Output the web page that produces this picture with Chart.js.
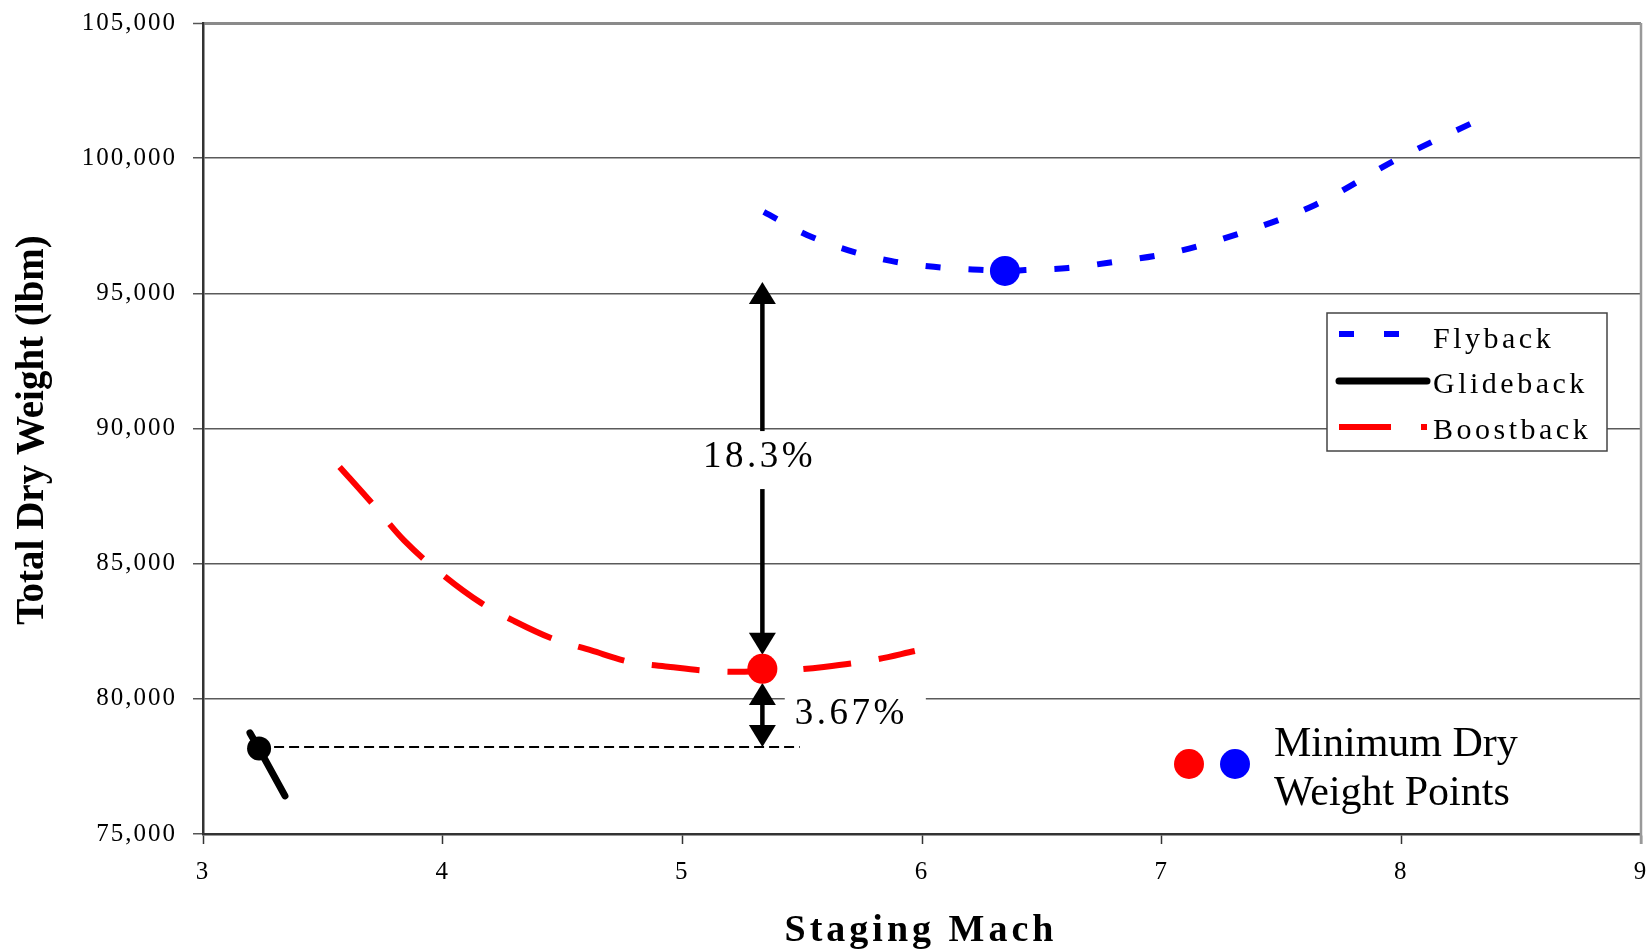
<!DOCTYPE html>
<html>
<head>
<meta charset="utf-8">
<script src="https://cdn.jsdelivr.net/npm/chart.js@4.4.1/dist/chart.umd.min.js"></script>
<style>
html, body { margin: 0; padding: 0; background: #fff; }
</style>
</head>
<body>
<canvas id="chart" width="1648" height="949"></canvas>
<script>
// staging Mach vs total dry weight
const flybackX = [5.34, 5.52, 5.69, 5.87, 6.05, 6.24, 6.35, 6.43, 6.61, 6.80, 7.05, 7.33, 7.64, 7.99, 8.34];
const flybackY = [98010, 97160, 96600, 96200, 95980, 95870, 95830, 95860, 95940, 96160, 96520, 97230, 98270, 100000, 101490];

const boostbackX = [3.57, 3.70, 3.84, 4.00, 4.16, 4.30, 4.46, 4.62, 4.78, 4.95, 5.10, 5.25, 5.33, 5.46, 5.59, 5.80, 5.97];
const boostbackY = [88580, 87290, 85850, 84590, 83550, 82870, 82220, 81790, 81370, 81180, 81040, 81000, 81030, 81070, 81180, 81440, 81770];

const glidebackX = [3.196, 3.234, 3.342];
const glidebackY = [78740, 78150, 76410];

// minimum dry weight points: glideback, boostback, flyback
const minX = [3.234, 5.334, 6.346];
const minY = [78160, 81110, 95830];

// dashed reference line at the glideback minimum
const refX = [3.234, 5.49];
const refY = [78220, 78220];

// difference arrows and their labels
const arrowX = [5.334, 5.334];
const arrowTop = [95420, 80590];
const arrowBottom = [81630, 78220];
const pctLabels = ['18.3%', '3.67%'];
const pctX = [5.322, 5.705];
const pctY = [88980, 79450];

const xMin = 3, xMax = 9, xStep = 1;
const yMin = 75000, yMax = 105000, yStep = 5000;

const seriesNames = ['Flyback', 'Glideback', 'Boostback'];

const pts = (xs, ys) => xs.map((x, i) => ({ x: x, y: ys[i] }));

const SERIF = "'Liberation Serif', 'Times New Roman', serif";

function drawArrows(chart) {
    const ctx = chart.ctx;
    const xs = chart.scales.x, ys = chart.scales.y;
    const headW = 27, headH = 22;
    ctx.save();
    ctx.fillStyle = '#000';
    ctx.strokeStyle = '#000';
    ctx.lineWidth = 4.5;
    for (let i = 0; i < arrowX.length; i++) {
        const px = xs.getPixelForValue(arrowX[i]);
        const top = ys.getPixelForValue(arrowTop[i]);
        const bot = ys.getPixelForValue(arrowBottom[i]);
        ctx.beginPath();
        ctx.moveTo(px, top + headH - 2);
        ctx.lineTo(px, bot - headH + 2);
        ctx.stroke();
        ctx.beginPath();
        ctx.moveTo(px, top);
        ctx.lineTo(px - headW / 2, top + headH);
        ctx.lineTo(px + headW / 2, top + headH);
        ctx.closePath();
        ctx.fill();
        ctx.beginPath();
        ctx.moveTo(px, bot);
        ctx.lineTo(px - headW / 2, bot - headH);
        ctx.lineTo(px + headW / 2, bot - headH);
        ctx.closePath();
        ctx.fill();
    }
    // percentage labels on white boxes
    ctx.font = '37px ' + SERIF;
    ctx.letterSpacing = '3.5px';
    ctx.textAlign = 'center';
    ctx.textBaseline = 'middle';
    for (let i = 0; i < pctLabels.length; i++) {
        const px = xs.getPixelForValue(pctX[i]);
        const py = ys.getPixelForValue(pctY[i]);
        const w = ctx.measureText(pctLabels[i]).width;
        ctx.fillStyle = '#fff';
        ctx.fillRect(px - w / 2 - 10, py - 25, w + 28, 58);
        ctx.fillStyle = '#000';
        ctx.fillText(pctLabels[i], px, py + 1);
    }
    ctx.restore();
}

function drawLegend(chart) {
    const ctx = chart.ctx;
    const a = chart.chartArea;
    const bx = a.right - 314, by = a.top + 290, bw = 280, bh = 138;
    ctx.save();
    ctx.fillStyle = '#fff';
    ctx.fillRect(bx, by, bw, bh);
    ctx.strokeStyle = '#444';
    ctx.lineWidth = 1.5;
    ctx.strokeRect(bx, by, bw, bh);

    const rows = [
        { color: '#0000ff', dash: [15, 30], width: 6, cap: 'butt', y: 21 },
        { color: '#000000', dash: [], width: 7, cap: 'round', y: 68 },
        { color: '#ff0000', dash: [52, 30], width: 6, cap: 'butt', y: 114 }
    ];
    rows.forEach((r, i) => {
        ctx.beginPath();
        ctx.setLineDash(r.dash);
        ctx.lineCap = r.cap;
        ctx.strokeStyle = r.color;
        ctx.lineWidth = r.width;
        ctx.moveTo(bx + 12, by + r.y);
        ctx.lineTo(bx + 100, by + r.y);
        ctx.stroke();
    });
    ctx.setLineDash([]);
    ctx.fillStyle = '#000';
    ctx.font = '30px ' + SERIF;
    ctx.letterSpacing = '3.5px';
    ctx.textAlign = 'left';
    ctx.textBaseline = 'alphabetic';
    const baselines = [35, 80, 126];
    seriesNames.forEach((name, i) => ctx.fillText(name, bx + 106, by + baselines[i]));

    // minimum dry weight note
    const nx = a.right - 452, ny = a.bottom - 70;
    ctx.fillStyle = '#ff0000';
    ctx.beginPath();
    ctx.arc(nx, ny, 15, 0, Math.PI * 2);
    ctx.fill();
    ctx.fillStyle = '#0000ff';
    ctx.beginPath();
    ctx.arc(nx + 46, ny, 15, 0, Math.PI * 2);
    ctx.fill();
    ctx.fillStyle = '#000';
    ctx.font = '42px ' + SERIF;
    ctx.letterSpacing = '0px';
    ctx.fillText('Minimum Dry', nx + 85, ny - 8);
    ctx.fillText('Weight Points', nx + 85, ny + 41);

    // right frame line
    ctx.strokeStyle = '#999';
    ctx.lineWidth = 2.5;
    ctx.beginPath();
    ctx.moveTo(a.right, a.top);
    ctx.lineTo(a.right, a.bottom + 10);
    ctx.stroke();
    ctx.restore();
}

function drawTitles(chart) {
    const ctx = chart.ctx;
    const a = chart.chartArea;
    ctx.save();
    ctx.fillStyle = '#000';
    ctx.textAlign = 'center';
    ctx.textBaseline = 'alphabetic';
    ctx.font = 'bold 38px ' + SERIF;
    ctx.letterSpacing = '4px';
    ctx.fillText('Staging Mach', (a.left + a.right) / 2 - 1, 941);
    ctx.translate(43, 430);
    ctx.rotate(-Math.PI / 2);
    ctx.font = 'bold 39px ' + SERIF;
    ctx.letterSpacing = '0px';
    ctx.fillText('Total Dry Weight (lbm)', 0, 0);
    ctx.restore();
}

const overlay = {
    id: 'overlay',
    beforeDraw(chart) { chart.ctx.letterSpacing = '2px'; },
    beforeDatasetsDraw(chart) { drawArrows(chart); },
    afterDatasetsDraw(chart) { drawLegend(chart); },
    afterDraw(chart) { drawTitles(chart); }
};

Chart.defaults.font.family = SERIF;
Chart.defaults.color = '#000';

new Chart(document.getElementById('chart'), {
    type: 'scatter',
    data: {
        datasets: [
            {
                label: 'Minimum',
                data: pts(minX, minY),
                showLine: false,
                pointRadius: [12, 15, 15],
                pointBackgroundColor: ['#000000', '#ff0000', '#0000ff'],
                pointBorderWidth: 0,
                order: 0
            },
            {
                label: 'Flyback',
                data: pts(flybackX, flybackY),
                showLine: true,
                borderColor: '#0000ff',
                borderWidth: 6,
                borderDash: [15, 28],
                cubicInterpolationMode: 'monotone',
                pointRadius: 0,
                order: 1
            },
            {
                label: 'Glideback',
                data: pts(glidebackX, glidebackY),
                showLine: true,
                borderColor: '#000000',
                borderWidth: 7,
                borderCapStyle: 'round',
                pointRadius: 0,
                order: 2
            },
            {
                label: 'Boostback',
                data: pts(boostbackX, boostbackY),
                showLine: true,
                borderColor: '#ff0000',
                borderWidth: 6,
                borderDash: [48, 28],
                cubicInterpolationMode: 'monotone',
                pointRadius: 0,
                order: 3
            },
            {
                label: 'Reference',
                data: pts(refX, refY),
                showLine: true,
                borderColor: '#000000',
                borderWidth: 2,
                borderDash: [10, 5],
                pointRadius: 0,
                order: 4
            }
        ]
    },
    options: {
        responsive: false,
        animation: false,
        devicePixelRatio: 1,
        layout: { autoPadding: false, padding: { top: 23, right: 7, left: 0, bottom: 0 } },
        plugins: {
            legend: { display: false },
            tooltip: { enabled: false }
        },
        scales: {
            x: {
                type: 'linear',
                min: xMin,
                max: xMax,
                ticks: { stepSize: xStep, padding: 13, font: { size: 25 }, maxRotation: 0 },
                grid: { drawOnChartArea: false, tickLength: 10, tickColor: '#333', tickWidth: 1.5 },
                border: { color: '#333', width: 2.5 },
                afterFit(scale) {
                    scale.height = 115;
                    scale.paddingLeft = 0;
                    scale.paddingRight = 0;
                }
            },
            y: {
                type: 'linear',
                min: yMin,
                max: yMax,
                ticks: {
                    stepSize: yStep,
                    padding: 16,
                    font: { size: 25 },
                    callback: v => v.toLocaleString('en-US')
                },
                grid: {
                    color: c => (c.tick && c.tick.value === yMax) ? '#8a8a8a' : '#5a5a5a',
                    lineWidth: c => (c.tick && c.tick.value === yMax) ? 3 : 1.5,
                    tickLength: 10,
                    tickColor: '#555',
                    tickWidth: 1.5
                },
                border: { color: '#333', width: 2.5 },
                afterFit(scale) {
                    scale.width = 203;
                    scale.paddingTop = 0;
                    scale.paddingBottom = 0;
                }
            }
        }
    },
    plugins: [overlay]
});
</script>
</body>
</html>
